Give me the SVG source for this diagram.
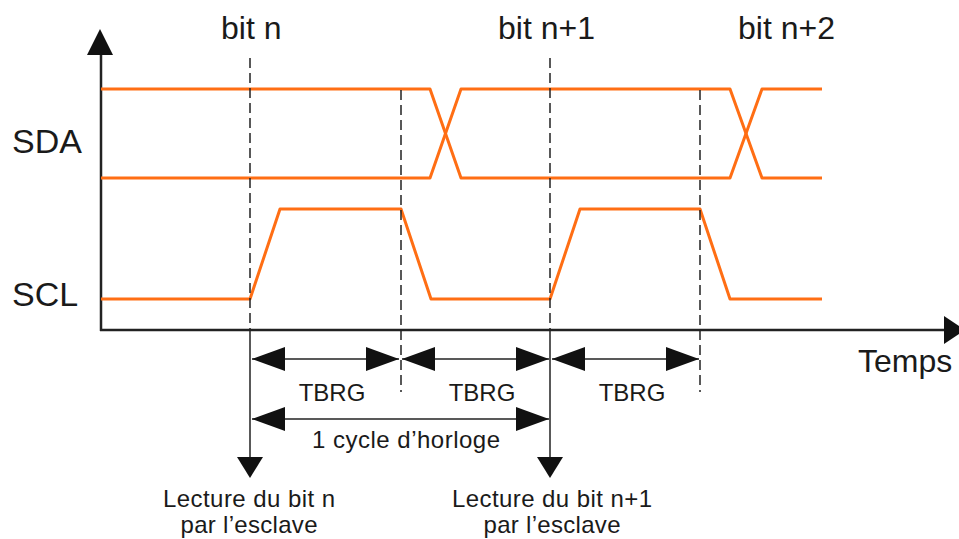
<svg xmlns="http://www.w3.org/2000/svg" width="959" height="539" viewBox="0 0 959 539">
<defs>
<style>
text{font-family:"Liberation Sans",Arial,sans-serif;fill:#1a1a1a}
.big{font-size:32px}
.lbl{font-size:34px}
.sm{font-size:24px;text-anchor:middle}
.sig{fill:none;stroke:#ff6e14;stroke-width:3;stroke-linejoin:round}
.axis{stroke:#222;stroke-width:2.5;fill:none}
.dash{stroke:#222;stroke-width:1.5;stroke-dasharray:10,5;fill:none}
.thin{stroke:#222;stroke-width:1.5;fill:none}
.head{fill:#111}
</style>
</defs>
<rect width="959" height="539" fill="#fff"/>
<g id="axes">
<line class="axis" x1="101" y1="50" x2="101" y2="331"/>
<line class="axis" x1="100" y1="330" x2="946" y2="330"/>
<polygon class="head" points="100,29 113,55 87,55"/>
<polygon class="head" points="965,330 944,316 944,344"/>
</g>
<g id="labels">
<text class="big" x="221" y="39">bit n</text>
<text class="big" x="498" y="39">bit n+1</text>
<text class="big" x="738" y="39">bit n+2</text>
<text class="lbl" x="12" y="153">SDA</text>
<text class="lbl" x="12" y="306">SCL</text>
<text class="big" x="858" y="372">Temps</text>
</g>
<g id="SDA">
<polyline class="sig" points="101,89 430,89 461,178 730,178 762,89 822,89"/>
<polyline class="sig" points="101,178 430,178 461,89 730,89 762,178 822,178"/>
</g>
<g id="SCL">
<polyline class="sig" points="101,299 250,299 280,209 401,209 431,299 550,299 580,209 700,209 730,299 822,299"/>
</g>
<g id="connectors">
<line class="dash" x1="250" y1="58" x2="250" y2="330"/>
<line class="dash" x1="401" y1="90" x2="401" y2="392"/>
<line class="dash" x1="550" y1="58" x2="550" y2="330"/>
<line class="dash" x1="700" y1="90" x2="700" y2="392"/>
<line class="thin" x1="250" y1="330" x2="250" y2="460"/>
<line class="thin" x1="550" y1="330" x2="550" y2="460"/>
<polygon class="head" points="250,478 237,457 263,457"/>
<polygon class="head" points="550,478 537,457 563,457"/>
<line class="thin" x1="252" y1="359" x2="399" y2="359"/>
<polygon class="head" points="252,359 285,347 285,371"/>
<polygon class="head" points="399,359 366,347 366,371"/>
<line class="thin" x1="402" y1="359" x2="549" y2="359"/>
<polygon class="head" points="402,359 435,347 435,371"/>
<polygon class="head" points="549,359 516,347 516,371"/>
<line class="thin" x1="552" y1="359" x2="699" y2="359"/>
<polygon class="head" points="552,359 585,347 585,371"/>
<polygon class="head" points="699,359 666,347 666,371"/>
<line class="thin" x1="252" y1="419" x2="549" y2="419"/>
<polygon class="head" points="252,419 285,407 285,431"/>
<polygon class="head" points="549,419 516,407 516,431"/>
</g>
<g id="dimension-labels">
<text class="sm" x="332" y="401">TBRG</text>
<text class="sm" x="482" y="401">TBRG</text>
<text class="sm" x="632" y="401">TBRG</text>
<text class="sm" x="406" y="448" textLength="188">1 cycle d’horloge</text>
<text class="sm" x="249" y="507" textLength="172">Lecture du bit n</text>
<text class="sm" x="249" y="533" textLength="137">par l’esclave</text>
<text class="sm" x="552" y="507" textLength="200">Lecture du bit n+1</text>
<text class="sm" x="552" y="533" textLength="137">par l’esclave</text>
</g>
</svg>
